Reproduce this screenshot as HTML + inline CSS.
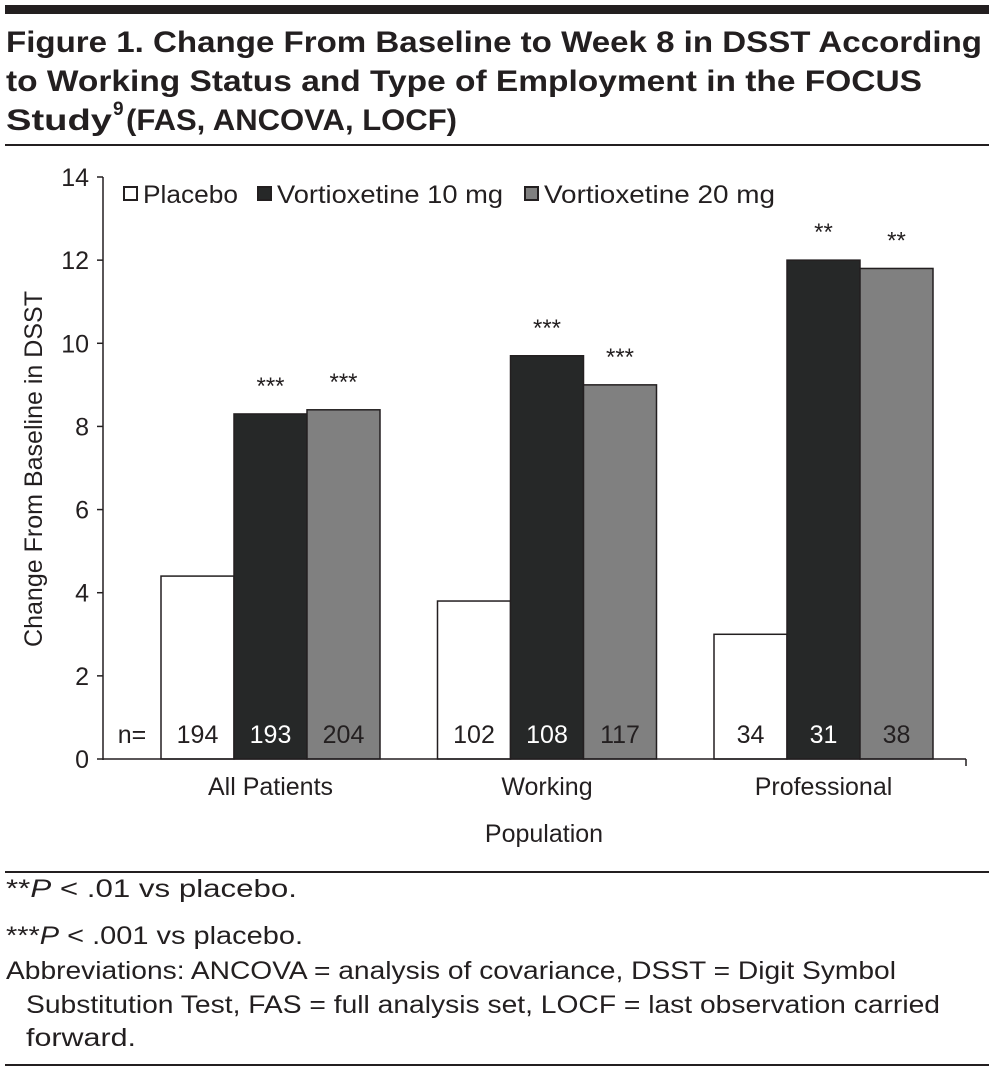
<!DOCTYPE html>
<html><head><meta charset="utf-8"><style>
html,body{margin:0;padding:0;background:#fff;}
svg{display:block;font-family:"Liberation Sans",sans-serif;}
</style></head><body>
<svg id="c" width="994" height="1074" viewBox="0 0 994 1074">
<rect x="5" y="5" width="984" height="9" fill="#231f20"/>
<g font-weight="bold" font-size="30" fill="#231f20">
<text x="6" y="52" textLength="976" lengthAdjust="spacingAndGlyphs">Figure 1. Change From Baseline to Week 8 in DSST According</text>
<text x="6" y="91" textLength="916" lengthAdjust="spacingAndGlyphs">to Working Status and Type of Employment in the FOCUS</text>
<text x="6" y="130" textLength="106" lengthAdjust="spacingAndGlyphs">Study</text>
<text x="113" y="115" font-size="19">9</text>
<text x="126" y="130" textLength="331" lengthAdjust="spacingAndGlyphs">(FAS, ANCOVA, LOCF)</text>
</g>
<rect x="5" y="144" width="984" height="2" fill="#231f20"/>
<g id="chart"></g>
<rect x="5" y="871" width="984" height="2" fill="#231f20"/>
<g font-size="25" fill="#231f20">
<text x="6" y="897" textLength="291" lengthAdjust="spacingAndGlyphs">**<tspan font-style="italic">P</tspan> &lt; .01 vs placebo.</text>
<text x="6" y="944" textLength="297" lengthAdjust="spacingAndGlyphs">***<tspan font-style="italic">P</tspan> &lt; .001 vs placebo.</text>
<text x="6" y="979" textLength="890" lengthAdjust="spacingAndGlyphs">Abbreviations: ANCOVA = analysis of covariance, DSST = Digit Symbol</text>
<text x="26" y="1013" textLength="914" lengthAdjust="spacingAndGlyphs">Substitution Test, FAS = full analysis set, LOCF = last observation carried</text>
<text x="26" y="1046" textLength="110" lengthAdjust="spacingAndGlyphs">forward.</text>
</g>
<rect x="5" y="1064" width="984" height="2" fill="#231f20"/>
</svg>
<script>
const categories = ["All Patients", "Working", "Professional"];
const seriesNames = ["Placebo", "Vortioxetine 10 mg", "Vortioxetine 20 mg"];
const placebo = [4.4, 3.8, 3.0];
const vort10 = [8.3, 9.7, 12.0];
const vort20 = [8.4, 9.0, 11.8];
const nPlacebo = ["194", "102", "34"];
const nVort10 = ["193", "108", "31"];
const nVort20 = ["204", "117", "38"];
const sigVort10 = ["***", "***", "**"];
const sigVort20 = ["***", "***", "**"];
const yTicks = [0, 2, 4, 6, 8, 10, 12, 14];

const NS = "http://www.w3.org/2000/svg";
const g = document.getElementById("chart");
const X0 = 103, X1 = 966, Y0 = 759, Y1 = 177, YMAX = 14;
const y = v => Y0 - (v / YMAX) * (Y0 - Y1);
const groupW = 276.5, barW = 73, firstLeft = 161;
const xBar = (ci, si) => firstLeft + ci * groupW + si * barW;
function mk(tag, attrs, text) {
  const e = document.createElementNS(NS, tag);
  for (const k in attrs) e.setAttribute(k, attrs[k]);
  if (text !== undefined) e.textContent = text;
  g.appendChild(e);
  return e;
}
const fills = ["#ffffff", "#262828", "#808080"];
const textFill = ["#231f20", "#ffffff", "#231f20"];
const series = [placebo, vort10, vort20];
const ns = [nPlacebo, nVort10, nVort20];
const sigs = [null, sigVort10, sigVort20];

let e = mk("line", {x1: X0, y1: Y1, x2: X0, y2: Y0 + 1, stroke: "#231f20", "stroke-width": 1.5});


yTicks.forEach(t => {
  let tk = mk("line", {x1: X0 - 6, y1: y(t), x2: X0, y2: y(t), stroke: "#231f20", "stroke-width": 1.5});
  
  
  let lb = mk("text", {x: X0 - 14, y: y(t) + 9, "text-anchor": "end", "font-size": 25, fill: "#231f20"}, t);
  
  
});
e = mk("text", {x: 42, y: 469, "text-anchor": "middle", "font-size": 25, fill: "#231f20", textLength: 356, lengthAdjust: "spacingAndGlyphs", transform: "rotate(-90 42 469)"}, "Change From Baseline in DSST");



categories.forEach((c, ci) => {
  series.forEach((s, si) => {
    const bx = xBar(ci, si), top = y(s[ci]);
    let r = mk("rect", {x: bx, y: top, width: barW, height: Y0 - top, fill: fills[si], stroke: "#231f20", "stroke-width": 1.5});
    
    
    let t = mk("text", {x: bx + barW / 2, y: 743, "text-anchor": "middle", "font-size": 25, fill: textFill[si]}, ns[si][ci]);
    
    
    if (sigs[si]) {
      let st = mk("text", {x: bx + barW / 2, y: top - 20, "text-anchor": "middle", "font-size": 24, fill: "#231f20"}, sigs[si][ci]);
      
      
    }
  });
  let cl = mk("text", {x: xBar(ci, 1) + barW / 2, y: 795, "text-anchor": "middle", "font-size": 25, fill: "#231f20"}, c);
  
  
});
e = mk("line", {x1: X0, y1: Y0, x2: X1, y2: Y0, stroke: "#231f20", "stroke-width": 1.5});


e = mk("line", {x1: X1, y1: Y0, x2: X1, y2: Y0 + 7, stroke: "#231f20", "stroke-width": 1.5});


e = mk("text", {x: 132, y: 743, "text-anchor": "middle", "font-size": 25, fill: "#231f20"}, "n=");


e = mk("text", {x: 544, y: 842, "text-anchor": "middle", "font-size": 25, fill: "#231f20"}, "Population");



const legX = [124, 258, 525];
const legW = [95, 226, 231];
seriesNames.forEach((n, i) => {
  let sq = mk("rect", {x: legX[i], y: 187, width: 13, height: 13, fill: fills[i], stroke: "#231f20", "stroke-width": 2});
  
  
  let lt = mk("text", {x: legX[i] + 19, y: 203, "font-size": 25, fill: "#231f20", textLength: legW[i], lengthAdjust: "spacingAndGlyphs"}, n);
  
  
});
</script>
</body></html>
